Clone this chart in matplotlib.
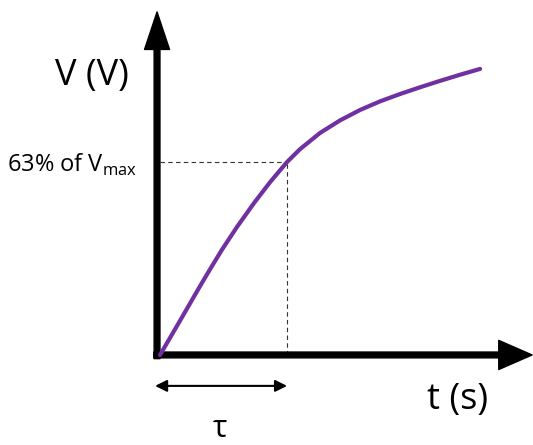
import matplotlib
matplotlib.use("Agg")
import matplotlib.pyplot as plt
from matplotlib.patches import FancyArrowPatch

plt.rcParams['font.family'] = ['Open Sans', 'DejaVu Sans']
plt.rcParams['mathtext.fontset'] = 'custom'
plt.rcParams['mathtext.rm'] = 'Open Sans'

# charging curve, t in units of tau, V as fraction of Vmax
t = [0.023, 0.177, 0.331, 0.408, 0.5, 0.615, 0.746, 0.869, 1.0, 1.1,
     1.254, 1.408, 1.562, 1.715, 1.869, 2.023, 2.177, 2.331, 2.485]
v = [0.0, 0.112, 0.225, 0.280, 0.344, 0.418, 0.496, 0.564, 0.63, 0.672,
     0.725, 0.766, 0.800, 0.828, 0.852, 0.874, 0.895, 0.915, 0.934]
tau = 1.0
v63 = 0.63

fig = plt.figure(figsize=(5.33, 4.45), dpi=100)
ax = fig.add_axes([0, 0, 1, 1])
ax.set_xlim(-1.208, 2.892)
ax.set_ylim(-0.294, 1.159)
ax.axis('off')

# axes with arrow heads
def arrow(p0, p1, hl, hw, tw):
    a = FancyArrowPatch(p0, p1, arrowstyle=f'simple,head_length={hl},head_width={hw},tail_width={tw}',
                        mutation_scale=1, color='black', shrinkA=0, shrinkB=0, zorder=3)
    ax.add_patch(a)

arrow((0, -0.012), (0, 1.12), 27, 18, 4.2)
arrow((-0.025, 0), (2.885, 0), 24, 21, 4.2)

# dashed guides
ax.plot([0.02, tau], [v63, v63], ls=(0, (4, 3)), lw=0.8, color='#333333')
ax.plot([tau, tau], [0, v63], ls=(0, (4, 3)), lw=0.8, color='#333333')

# curve
ax.plot(t, v, color='#7030A0', lw=3, solid_capstyle='round', solid_joinstyle='round', zorder=4)

# tau span arrow
ax.annotate('', xy=(tau, -0.101), xytext=(-0.015, -0.101),
            arrowprops=dict(arrowstyle='<|-|>,head_length=0.5,head_width=0.25',
                            lw=1.5, color='black', shrinkA=0, shrinkB=0, mutation_scale=14))

ax.text(0.485, -0.268, 'τ', fontsize=22, ha='center', va='baseline')
ax.text(-0.498, 0.91, 'V (V)', fontsize=26, ha='center', va='center')
ax.text(2.31, -0.148, 't (s)', fontsize=26, ha='center', va='center')
ax.text(-0.15, 0.62, r'63% of V$_{\mathregular{max}}$', fontsize=17, ha='right', va='center')

fig.savefig('out.png', dpi=100)
